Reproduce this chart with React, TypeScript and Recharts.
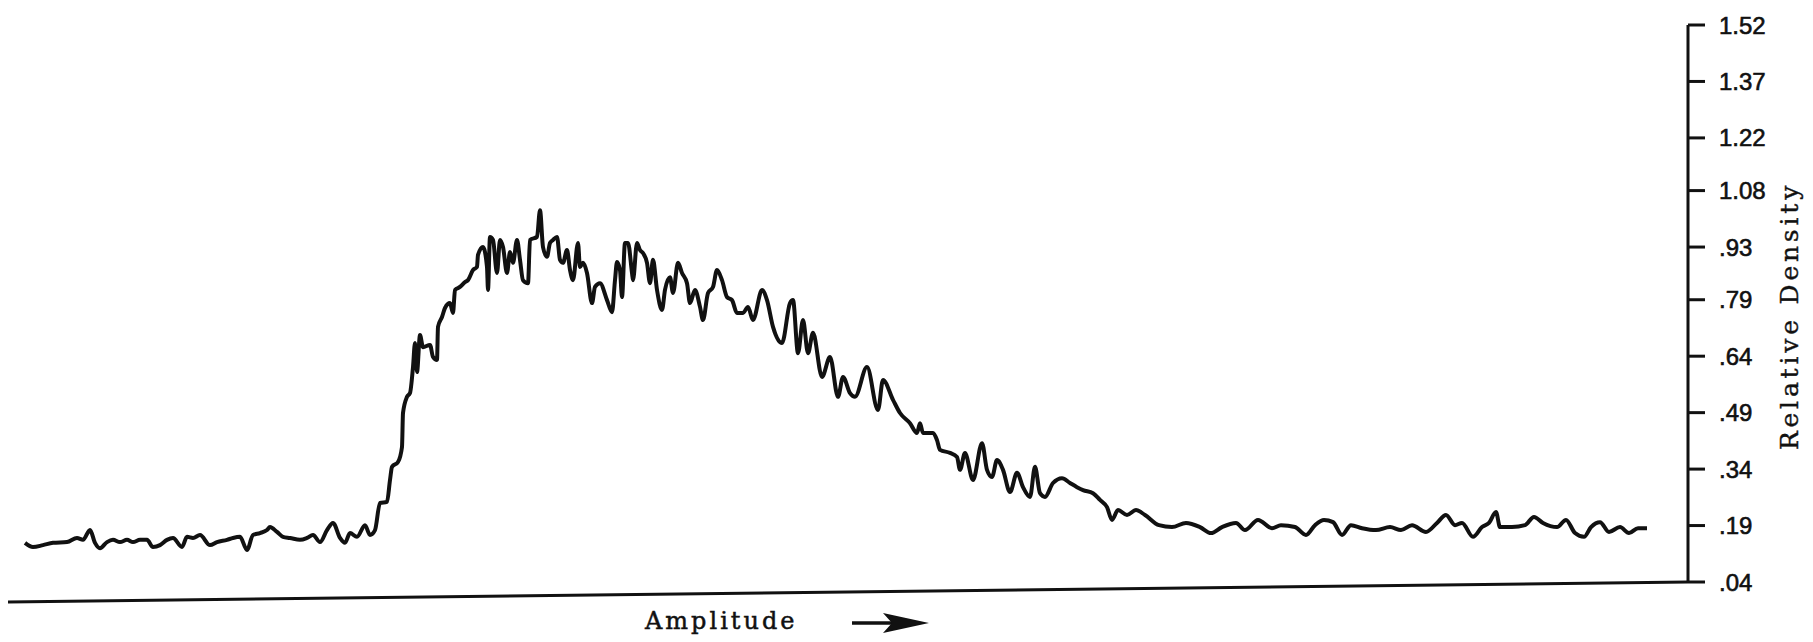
import { Label, Line, LineChart, ReferenceLine, XAxis, YAxis } from "recharts";

// amplitude in arbitrary channel units (no scale printed on the original)
const amplitude = [
  0, 8, 18, 28, 42, 52, 58, 65, 70, 75, 82, 88, 95, 102, 108, 115, 122, 128, 135, 142,
  148, 157, 162, 168, 175, 185, 192, 202, 208, 215, 222, 228, 235, 242, 245, 252, 258, 265, 275, 282,
  288, 295, 302, 308, 315, 320, 325, 332, 340, 345, 350, 355, 362, 365, 367, 373, 377, 378, 382, 385,
  388, 390, 392, 395, 398, 405, 408, 412, 413, 417, 420, 425, 428, 430, 435, 440, 443, 448, 452, 453,
  458, 462, 463, 465, 468, 472, 475, 478, 482, 485, 488, 492, 495, 498, 503, 505, 512, 515, 518, 522,
  525, 528, 532, 535, 538, 542, 545, 548, 553, 555, 558, 562, 567, 570, 575, 582, 587, 590, 592, 595,
  597, 600, 603, 607, 608, 612, 615, 618, 622, 625, 628, 632, 637, 640, 645, 648, 653, 657, 662, 665,
  670, 675, 678, 683, 688, 692, 697, 702, 707, 712, 718, 723, 728, 737, 742, 748, 757, 765, 768, 773,
  778, 783, 788, 797, 805, 813, 818, 825, 830, 842, 853, 858, 868, 875, 885, 892, 895, 898, 908, 912,
  915, 925, 932, 935, 940, 948, 957, 962, 967, 972, 978, 985, 992, 998, 1005, 1010, 1015, 1020, 1028, 1037,
  1045, 1052, 1058, 1068, 1075, 1082, 1087, 1093, 1102, 1111, 1120, 1134, 1147, 1161, 1175, 1186, 1197, 1211, 1220, 1233,
  1247, 1256, 1270, 1281, 1290, 1299, 1308, 1317, 1326, 1337, 1351, 1365, 1376, 1387, 1401, 1412, 1421, 1430, 1437, 1448,
  1457, 1464, 1471, 1475, 1487, 1500, 1509, 1518, 1532, 1541, 1550, 1559, 1566, 1575, 1584, 1595, 1604, 1613, 1622,
];

const density = [
  0.144, 0.133, 0.138, 0.144, 0.146, 0.157, 0.152, 0.178, 0.144, 0.13, 0.146, 0.152, 0.146, 0.152, 0.146, 0.152, 0.152, 0.133, 0.138, 0.152,
  0.157, 0.133, 0.16, 0.157, 0.165, 0.138, 0.146, 0.152, 0.157, 0.16, 0.125, 0.165, 0.17, 0.178, 0.186, 0.173, 0.16, 0.157, 0.152, 0.157,
  0.165, 0.146, 0.178, 0.197, 0.157, 0.144, 0.17, 0.16, 0.191, 0.165, 0.178, 0.25, 0.253, 0.311, 0.346, 0.359, 0.399, 0.489, 0.532, 0.542,
  0.611, 0.675, 0.598, 0.696, 0.664, 0.67, 0.638, 0.63, 0.718, 0.744, 0.768, 0.781, 0.755, 0.816, 0.824, 0.837, 0.842, 0.869, 0.877, 0.909,
  0.93, 0.877, 0.816, 0.957, 0.949, 0.861, 0.949, 0.93, 0.861, 0.917, 0.888, 0.949, 0.896, 0.842, 0.834, 0.949, 0.957, 1.028, 0.93, 0.904,
  0.941, 0.949, 0.957, 0.896, 0.888, 0.922, 0.869, 0.842, 0.941, 0.877, 0.888, 0.861, 0.781, 0.824, 0.834, 0.789, 0.757, 0.842, 0.89, 0.869,
  0.797, 0.941, 0.941, 0.861, 0.842, 0.941, 0.922, 0.914, 0.888, 0.834, 0.896, 0.816, 0.763, 0.816, 0.85, 0.808, 0.888, 0.861, 0.834, 0.781,
  0.816, 0.771, 0.736, 0.808, 0.824, 0.869, 0.842, 0.797, 0.789, 0.755, 0.755, 0.771, 0.736, 0.816, 0.789, 0.718, 0.675, 0.781, 0.789, 0.648,
  0.736, 0.648, 0.702, 0.585, 0.638, 0.532, 0.585, 0.542, 0.532, 0.611, 0.497, 0.577, 0.524, 0.489, 0.462, 0.436, 0.462, 0.436, 0.436, 0.417,
  0.391, 0.383, 0.372, 0.338, 0.383, 0.311, 0.409, 0.338, 0.319, 0.364, 0.338, 0.279, 0.33, 0.292, 0.266, 0.346, 0.276, 0.266, 0.303, 0.316,
  0.303, 0.292, 0.284, 0.276, 0.258, 0.239, 0.205, 0.231, 0.218, 0.231, 0.218, 0.191, 0.186, 0.197, 0.186, 0.17, 0.186, 0.197, 0.178, 0.205,
  0.183, 0.191, 0.186, 0.165, 0.191, 0.205, 0.199, 0.165, 0.191, 0.183, 0.178, 0.186, 0.178, 0.191, 0.173, 0.197, 0.218, 0.191, 0.197, 0.16,
  0.186, 0.197, 0.226, 0.186, 0.186, 0.191, 0.213, 0.197, 0.186, 0.205, 0.17, 0.16, 0.186, 0.199, 0.173, 0.186, 0.17, 0.183, 0.183,
];

const yTicks = [0.04, 0.19, 0.34, 0.49, 0.64, 0.79, 0.93, 1.08, 1.22, 1.37, 1.52];
const yTickLabels = [".04", ".19", ".34", ".49", ".64", ".79", ".93", "1.08", "1.22", "1.37", "1.52"];

// the scanned baseline runs slightly downhill to the left
const baseline = [
  { x: -17, y: -0.013 },
  { x: 1663, y: 0.04 },
];

const data = amplitude.map((a, i) => ({ amp: a, density: density[i] }));

const ink = "#111";
const typeFont = "'DejaVu Serif', serif";

function AmplitudeLabel(props: any) {
  const { x, y } = props.viewBox;
  return (
    <g>
      <text
        x={x + 637}
        y={y + 47}
        fill={ink}
        stroke={ink}
        strokeWidth={0.5}
        fontFamily={typeFont}
        fontSize={24}
        letterSpacing={3}
      >
        Amplitude
      </text>
      <line x1={x + 844} y1={y + 41} x2={x + 885} y2={y + 41} stroke={ink} strokeWidth={3.5} />
      <path
        d={`M${x + 875} ${y + 31} L${x + 921} ${y + 41} L${x + 875} ${y + 51} L${x + 884} ${y + 41} Z`}
        fill={ink}
      />
    </g>
  );
}

function DensityLabel(props: any) {
  const { x, y } = props.viewBox;
  const cx = x + 101;
  const cy = y + 291;
  return (
    <text
      x={cx}
      y={cy}
      transform={`rotate(-90 ${cx} ${cy})`}
      textAnchor="middle"
      dominantBaseline="central"
      fill={ink}
      stroke={ink}
      strokeWidth={0.4}
      fontFamily={typeFont}
      fontSize={25}
      letterSpacing={3.8}
    >
      Relative Density
    </text>
  );
}

export default function App() {
  return (
    <div style={{ position: "absolute", left: 0, top: 0, width: 1813, height: 642, background: "#fff" }}>
      <LineChart width={1813} height={642} data={data} margin={{ top: 25, right: 0, bottom: 0, left: 8 }}>
        <XAxis
          dataKey="amp"
          type="number"
          domain={[-17, 1663]}
          axisLine={false}
          tickLine={false}
          tick={false}
          height={60}
        >
          <Label content={AmplitudeLabel} />
        </XAxis>
        <YAxis
          orientation="right"
          type="number"
          domain={[0.04, 1.52]}
          ticks={yTicks}
          interval={0}
          tickFormatter={(v: number) => yTickLabels[yTicks.indexOf(v)] ?? String(v)}
          width={125}
          tickSize={17}
          tickMargin={14}
          axisLine={{ stroke: ink, strokeWidth: 3 }}
          tickLine={{ stroke: ink, strokeWidth: 3 }}
          tick={{ fill: ink, stroke: ink, strokeWidth: 0.6, fontSize: 24, fontFamily: "'Liberation Sans', sans-serif" }}
        >
          <Label content={DensityLabel} />
        </YAxis>
        <ReferenceLine segment={baseline} stroke={ink} strokeWidth={3} ifOverflow="visible" />
        <Line
          type="monotone"
          dataKey="density"
          stroke={ink}
          strokeWidth={4}
          strokeLinejoin="round"
          dot={false}
          isAnimationActive={false}
        />
      </LineChart>
    </div>
  );
}
